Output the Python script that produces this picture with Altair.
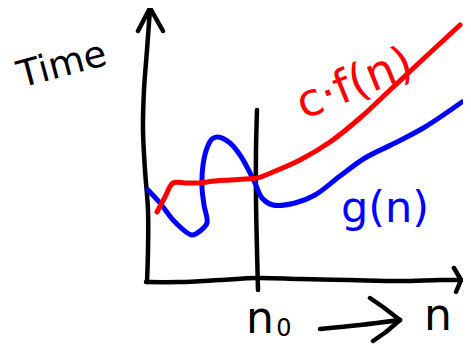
import altair as alt
import pandas as pd

# ---- hand-drawn strokes (n to the right, t measured downward from the top) ----
RED_N = [157, 165, 173, 185, 197, 215, 230, 245, 257, 273, 300, 330, 360, 390, 420, 460]
RED_T = [212, 197, 183, 183, 183, 181, 180, 179, 178, 172, 160, 142, 118, 90, 62, 25]

BLUE_N = [148, 160, 175, 192, 200, 207, 204, 202, 203, 207, 212, 218, 230, 240, 247, 255, 262, 273, 295,
          315, 340, 365, 395, 425, 462]
BLUE_T = [190, 203, 222, 235, 231, 223, 205, 187, 165, 148, 139, 137, 143, 155, 167, 183, 198, 205, 203,
          195, 176, 158, 143, 127, 102]

YAXIS_N = [150, 147, 144, 143, 145, 148, 148, 147]
YAXIS_T = [9, 50, 90, 130, 170, 210, 250, 282]
YHEAD_N = [138, 150, 163]
YHEAD_T = [31, 8, 31]

XAXIS_N = [146, 180, 220, 257, 300, 350, 400, 440, 461]
XAXIS_T = [282, 282, 280, 278, 279, 280, 281, 280, 280]
XHEAD_N = [454, 461, 456]
XHEAD_T = [268, 280, 292]

N0_N = [257, 256, 256, 257, 258]
N0_T = [110, 150, 200, 250, 290]

SHAFT_N = [320, 360, 400]
SHAFT_T = [329, 325, 320]
BHEAD_N = [370, 383, 400, 386, 373]
BHEAD_T = [298, 307, 320, 332, 341]

LABELS = ["Time", "c·f(n)", "g(n)", "n", "0", "n"]
LABEL_N = [65, 360, 385, 260, 284, 438]
LABEL_T = [76, 97, 222, 333, 336, 330]
LABEL_ANGLE = [345, 338, 0, 0, 0, 0]
LABEL_SIZE = [37, 46, 43, 44, 24, 44]
LABEL_INK = ["black", "red", "blue", "black", "black", "black"]


def stroke_frame(name, ns, ts):
    return pd.DataFrame({"n": ns, "t": ts, "stroke": name, "i": range(len(ns))})


black_smooth = pd.concat([
    stroke_frame("yaxis", YAXIS_N, YAXIS_T),
    stroke_frame("xaxis", XAXIS_N, XAXIS_T),
    stroke_frame("n0", N0_N, N0_T),
    stroke_frame("shaft", SHAFT_N, SHAFT_T),
])
black_sharp = pd.concat([
    stroke_frame("yhead", YHEAD_N, YHEAD_T),
    stroke_frame("xhead", XHEAD_N, XHEAD_T),
    stroke_frame("bhead", BHEAD_N, BHEAD_T),
])
red = stroke_frame("cf", RED_N, RED_T)
blue = stroke_frame("g", BLUE_N, BLUE_T)

labels = pd.DataFrame({
    "label": LABELS, "n": LABEL_N, "t": LABEL_T,
    "angle": LABEL_ANGLE, "size": LABEL_SIZE, "ink": LABEL_INK,
})

xs = alt.Scale(domain=[8, 463], nice=False, zero=False)
ys = alt.Scale(domain=[8, 344], nice=False, zero=False, reverse=True)


def strokes(df, color, interp, width=4.5):
    return alt.Chart(df).mark_line(
        color=color, strokeWidth=width, strokeCap="round", strokeJoin="round", interpolate=interp
    ).encode(
        x=alt.X("n:Q", scale=xs, axis=None),
        y=alt.Y("t:Q", scale=ys, axis=None),
        detail="stroke:N",
        order="i:Q",
    )


text = alt.Chart(labels).mark_text(
    align="center", baseline="alphabetic", font="DejaVu Sans"
).encode(
    x=alt.X("n:Q", scale=xs, axis=None),
    y=alt.Y("t:Q", scale=ys, axis=None),
    text="label:N",
    angle=alt.Angle("angle:Q", scale=None),
    size=alt.Size("size:Q", scale=None, legend=None),
    color=alt.Color("ink:N", scale=alt.Scale(domain=["black", "red", "blue"],
                                             range=["#000000", "#ff0000", "#0000ff"]), legend=None),
)

chart = alt.layer(
    strokes(black_smooth, "#000000", "catmull-rom"),
    strokes(black_sharp, "#000000", "linear"),
    strokes(blue, "#0000ff", "catmull-rom", 5),
    strokes(red, "#ff0000", "catmull-rom", 5),
    text,
).properties(
    width=455, height=336, autosize=alt.AutoSizeParams(type="none"), padding=0, background="white"
).configure_view(stroke=None)

chart.save("out.html", embed_options={"renderer": "svg", "actions": False})
